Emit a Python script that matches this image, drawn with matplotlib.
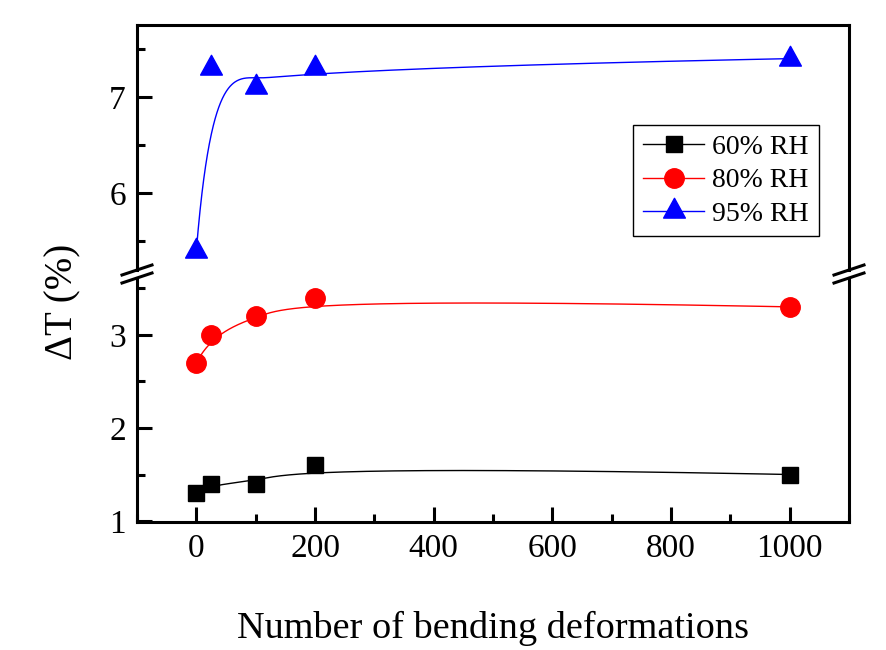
import matplotlib
matplotlib.use('Agg')

import matplotlib.pyplot as plt
from matplotlib.lines import Line2D
from matplotlib.path import Path
import numpy as np

plt.rcParams['font.family'] = ['Liberation Serif', 'DejaVu Serif']

# data
cycles = [0, 25, 100, 200, 1000]
rh60 = [1.30, 1.40, 1.40, 1.60, 1.50]
rh80 = [2.70, 3.00, 3.20, 3.40, 3.30]
rh95 = [5.40, 7.30, 7.10, 7.30, 7.40]
labels = ['60% RH', '80% RH', '95% RH']


def bspline(px, py, n=400, k=3):
    # clamped cubic B-spline using the points as control points (Origin "B-Spline")
    px = np.asarray(px, float)
    py = np.asarray(py, float)
    m = len(px)
    knots = np.concatenate([[0.0] * k, np.linspace(0, 1, m - k + 1), [1.0] * k])
    t = np.linspace(0, 1, n)
    t[-1] -= 1e-9

    def basis(i, p):
        if p == 0:
            return ((knots[i] <= t) & (t < knots[i + 1])).astype(float)
        out = np.zeros_like(t)
        d = knots[i + p] - knots[i]
        if d > 0:
            out += (t - knots[i]) / d * basis(i, p - 1)
        d = knots[i + p + 1] - knots[i + 1]
        if d > 0:
            out += (knots[i + p + 1] - t) / d * basis(i + 1, p - 1)
        return out

    B = np.array([basis(i, k) for i in range(m)])
    return B.T @ px, B.T @ py


# triangle centred on its centroid, like Origin draws it
tri = Path([(0, 0.667), (-0.55, -0.333), (0.55, -0.333), (0, 0.667)],
           [Path.MOVETO, Path.LINETO, Path.LINETO, Path.CLOSEPOLY])

W, H = 886, 650
fig = plt.figure(figsize=(W / 100, H / 100), dpi=100)

x0, x1 = 137, 849
ytop, ybrk_hi, ybrk_lo, ybot = 25, 270, 278, 522

ax_t = fig.add_axes([x0 / W, 1 - ybrk_hi / H, (x1 - x0) / W, (ybrk_hi - ytop) / H])
ax_b = fig.add_axes([x0 / W, 1 - ybot / H, (x1 - x0) / W, (ybot - ybrk_lo) / H])

series = [(rh60, 'k', 's', 12, ax_b), (rh80, 'r', 'o', 14, ax_b), (rh95, 'b', tri, 19, ax_t)]
handles = []
for (vals, c, mk, ms, ax), lab in zip(series, labels):
    sx, sy = bspline(cycles, vals)
    ax.plot(sx, sy, color=c, lw=1.0)
    ax.plot(cycles, vals, ls='none', marker=mk, ms=ms, color=c, mec=c)
    handles.append(Line2D([], [], color=c, lw=1.0, marker=mk, ms=ms, mec=c))

ax_t.set_ylim(5.20, 7.75)
ax_b.set_ylim(0.99, 3.61)
for ax in (ax_t, ax_b):
    ax.set_xlim(-100, 1100)
    for s in ax.spines.values():
        s.set_linewidth(2.2)
    ax.tick_params(direction='in', width=2.2, length=11, labelsize=24, pad=8)
    ax.tick_params(which='minor', direction='in', width=2.2, length=6)
    ax.tick_params(right=False, top=False)
    ax.yaxis.set_minor_locator(matplotlib.ticker.MultipleLocator(0.5))

ax_t.spines['bottom'].set_visible(False)
ax_t.tick_params(bottom=False, labelbottom=False, which='both')
ax_t.set_yticks([6, 7])
ax_b.spines['top'].set_visible(False)
ax_b.set_yticks([1, 2, 3])
ax_b.set_xticks([0, 200, 400, 600, 800, 1000])
ax_b.xaxis.set_minor_locator(matplotlib.ticker.MultipleLocator(100))
ax_b.set_xlabel('Number of bending deformations', fontsize=27.5, labelpad=34)

fig.text(63 / W, 1 - 302 / H, 'ΔT (%)', rotation=90, fontsize=28,
         ha='center', va='center')

# break marks on both vertical spines
for xb in (x0, x1):
    for yb in (ybrk_hi, ybrk_lo):
        xs = np.array([xb - 15, xb + 15]) / W
        ys = 1 - np.array([yb + 5, yb - 5]) / H
        fig.add_artist(Line2D(xs, ys, color='k', lw=2.2, transform=fig.transFigure))

leg = ax_t.legend(handles, labels, loc='upper left', bbox_to_anchor=(0.697, 0.592),
                  fontsize=20, frameon=True, fancybox=False, edgecolor='k',
                  framealpha=1, handlelength=2.2, handletextpad=0.3,
                  borderpad=0.35, labelspacing=0.28, borderaxespad=0)
leg.get_frame().set_linewidth(1.0)

fig.savefig('out.png', dpi=100)
